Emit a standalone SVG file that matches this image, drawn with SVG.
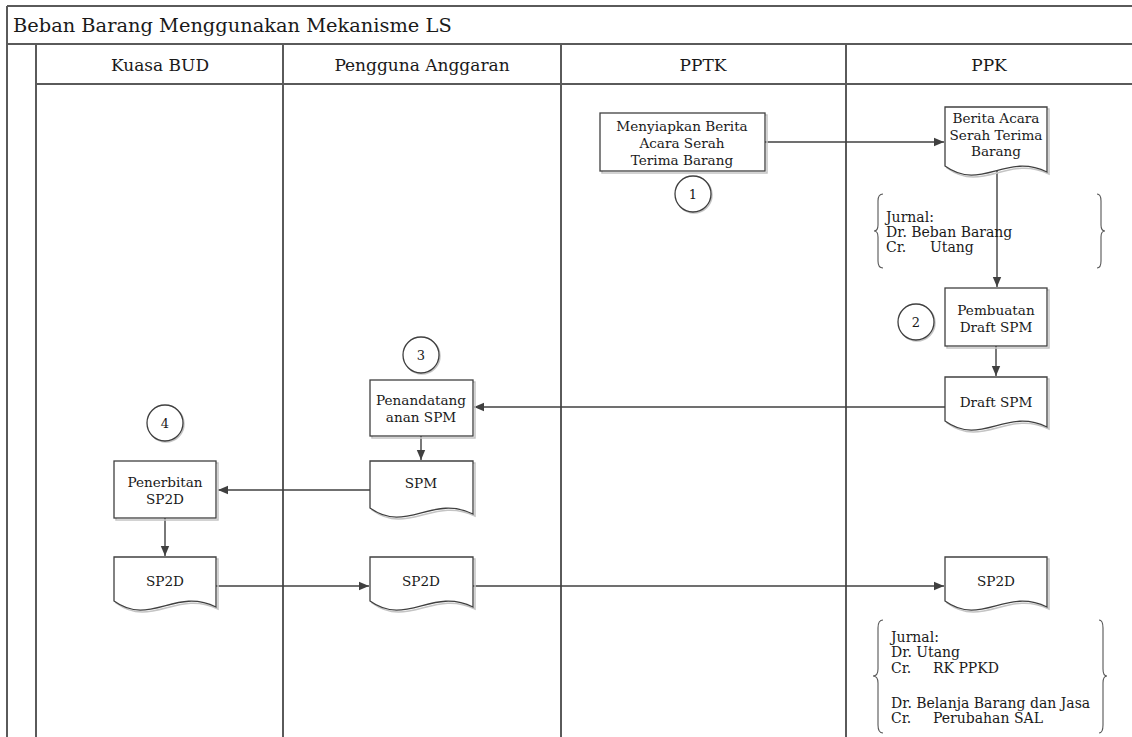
<svg xmlns="http://www.w3.org/2000/svg" width="1132" height="737" viewBox="0 0 1132 737">
<style>
.frame{fill:none;stroke:#5a5a5a;stroke-width:2}
.shape{fill:#ffffff;stroke:#404040;stroke-width:1.3}
.shadow{fill:none;stroke:#c4c4c4;stroke-width:1.5}
.conn{fill:none;stroke:#404040;stroke-width:1.4}
.brace{fill:none;stroke:#555;stroke-width:1.1}
text{font-family:"DejaVu Serif","Liberation Serif",serif;fill:#1a1a1a}
.t{font-size:13.6px;text-anchor:middle}
.j{font-size:14px}
.h{font-size:17px;text-anchor:middle}
.n{font-size:13px;text-anchor:middle}
</style>
<defs>
<marker id="arr" viewBox="0 0 10 10" refX="10" refY="5" markerWidth="10" markerHeight="10" markerUnits="userSpaceOnUse" orient="auto">
<path d="M0,0.8 L10,5 L0,9.2 Z" fill="#404040"/>
</marker>
</defs>
<rect width="1132" height="737" fill="#ffffff"/>
<g id="pool">
<line class="frame" x1="7" y1="6" x2="1132" y2="6"/>
<line class="frame" x1="7" y1="44" x2="1132" y2="44"/>
<line class="frame" x1="36" y1="84" x2="1132" y2="84"/>
<line class="frame" x1="7" y1="6" x2="7" y2="737"/>
<line class="frame" x1="36" y1="44" x2="36" y2="737"/>
<line class="frame" x1="283" y1="44" x2="283" y2="737"/>
<line class="frame" x1="561" y1="44" x2="561" y2="737"/>
<line class="frame" x1="846" y1="44" x2="846" y2="737"/>
<text x="13" y="32" style="font-size:19.4px">Beban Barang Menggunakan Mekanisme LS</text>
<text class="h" x="160" y="71">Kuasa BUD</text>
<text class="h" x="422" y="71">Pengguna Anggaran</text>
<text class="h" x="703" y="71">PPTK</text>
<text class="h" x="989" y="71">PPK</text>
</g>
<g id="connectors">
<line class="conn" x1="765" y1="142" x2="944" y2="142" marker-end="url(#arr)"/>
<line class="conn" x1="997" y1="171" x2="997" y2="287" marker-end="url(#arr)"/>
<line class="conn" x1="996" y1="346" x2="996" y2="376" marker-end="url(#arr)"/>
<line class="conn" x1="945" y1="407" x2="474" y2="407" marker-end="url(#arr)"/>
<line class="conn" x1="421" y1="436" x2="421" y2="460" marker-end="url(#arr)"/>
<line class="conn" x1="370" y1="490" x2="218" y2="490" marker-end="url(#arr)"/>
<line class="conn" x1="165" y1="518" x2="165" y2="556" marker-end="url(#arr)"/>
<line class="conn" x1="216" y1="586" x2="369" y2="586" marker-end="url(#arr)"/>
<line class="conn" x1="473" y1="586" x2="944" y2="586" marker-end="url(#arr)"/>
</g>
<g id="n1">
<rect class="shadow" x="602" y="115" width="165" height="58"/>
<rect class="shape" x="600" y="113" width="165" height="58"/>
<text class="t" x="682" y="131">Menyiapkan Berita</text>
<text class="t" x="682" y="148">Acara Serah</text>
<text class="t" x="682" y="165">Terima Barang</text>
</g>
<g id="c1">
<circle class="shadow" cx="694" cy="195" r="18"/>
<circle class="shape" cx="693" cy="194" r="18"/>
<text class="n" x="693" y="199">1</text>
</g>
<g id="n2">
<path class="shadow" d="M947,109 L1049,109 L1049,174 C1008,154 983,194 947,168 Z"/>
<path class="shape" d="M945,107 L1047,107 L1047,172 C1006,152 981,192 945,166 Z"/>
<text class="t" x="996" y="123">Berita Acara</text>
<text class="t" x="996" y="140">Serah Terima</text>
<text class="t" x="996" y="156">Barang</text>
</g>
<g id="j1">
<path class="brace" d="M883,194 Q878,194 878,201 L878,225 Q878,231 874,231 Q878,231 878,237 L878,261 Q878,268 883,268"/>
<path class="brace" d="M1097,194 Q1101,194 1101,201 L1101,225 Q1101,231 1105,231 Q1101,231 1101,237 L1101,261 Q1101,268 1097,268"/>
<text class="j" x="886" y="222">Jurnal:</text>
<text class="j" x="886" y="237">Dr. Beban Barang</text>
<text class="j" x="886" y="252">Cr.</text>
<text class="j" x="930" y="252">Utang</text>
</g>
<g id="n3">
<rect class="shadow" x="947" y="290" width="102" height="58"/>
<rect class="shape" x="945" y="288" width="102" height="58"/>
<text class="t" x="996" y="315">Pembuatan</text>
<text class="t" x="996" y="332">Draft SPM</text>
</g>
<g id="c2">
<circle class="shadow" cx="917" cy="323" r="18"/>
<circle class="shape" cx="916" cy="322" r="18"/>
<text class="n" x="916" y="327">2</text>
</g>
<g id="n4">
<path class="shadow" d="M947,379 L1049,379 L1049,429 C1008,409 983,449 947,423 Z"/>
<path class="shape" d="M945,377 L1047,377 L1047,427 C1006,407 981,447 945,421 Z"/>
<text class="t" x="996" y="407">Draft SPM</text>
</g>
<g id="c3">
<circle class="shadow" cx="422" cy="356" r="18"/>
<circle class="shape" cx="421" cy="355" r="18"/>
<text class="n" x="421" y="360">3</text>
</g>
<g id="n5">
<rect class="shadow" x="372" y="382" width="103" height="56"/>
<rect class="shape" x="370" y="380" width="103" height="56"/>
<text class="t" x="421" y="405">Penandatang</text>
<text class="t" x="421" y="422">anan SPM</text>
</g>
<g id="n6">
<path class="shadow" d="M372,463 L475,463 L475,516 C434,496 408,536 372,510 Z"/>
<path class="shape" d="M370,461 L473,461 L473,514 C432,494 406,534 370,508 Z"/>
<text class="t" x="421" y="488">SPM</text>
</g>
<g id="c4">
<circle class="shadow" cx="166" cy="424" r="18"/>
<circle class="shape" cx="165" cy="423" r="18"/>
<text class="n" x="165" y="428">4</text>
</g>
<g id="n7">
<rect class="shadow" x="116" y="463" width="102" height="57"/>
<rect class="shape" x="114" y="461" width="102" height="57"/>
<text class="t" x="165" y="487">Penerbitan</text>
<text class="t" x="165" y="504">SP2D</text>
</g>
<g id="n8">
<path class="shadow" d="M116,559 L218,559 L218,609 C177,589 152,629 116,603 Z"/>
<path class="shape" d="M114,557 L216,557 L216,607 C175,587 150,627 114,601 Z"/>
<text class="t" x="165" y="586">SP2D</text>
</g>
<g id="n9">
<path class="shadow" d="M372,559 L475,559 L475,609 C434,589 408,629 372,603 Z"/>
<path class="shape" d="M370,557 L473,557 L473,607 C432,587 406,627 370,601 Z"/>
<text class="t" x="421" y="586">SP2D</text>
</g>
<g id="n10">
<path class="shadow" d="M947,559 L1049,559 L1049,609 C1008,589 983,629 947,603 Z"/>
<path class="shape" d="M945,557 L1047,557 L1047,607 C1006,587 981,627 945,601 Z"/>
<text class="t" x="996" y="586">SP2D</text>
</g>
<g id="j2">
<path class="brace" d="M883,620 Q878,620 878,628 L878,669 Q878,676 873,676 Q878,676 878,683 L878,725 Q878,733 883,733"/>
<path class="brace" d="M1099,620 Q1103,620 1103,628 L1103,669 Q1103,676 1107,676 Q1103,676 1103,683 L1103,725 Q1103,733 1099,733"/>
<text class="j" x="891" y="642">Jurnal:</text>
<text class="j" x="891" y="657">Dr. Utang</text>
<text class="j" x="891" y="673">Cr.</text>
<text class="j" x="933" y="673">RK PPKD</text>
<text class="j" x="891" y="708">Dr. Belanja Barang dan Jasa</text>
<text class="j" x="891" y="723">Cr.</text>
<text class="j" x="933" y="723">Perubahan SAL</text>
</g>
</svg>
